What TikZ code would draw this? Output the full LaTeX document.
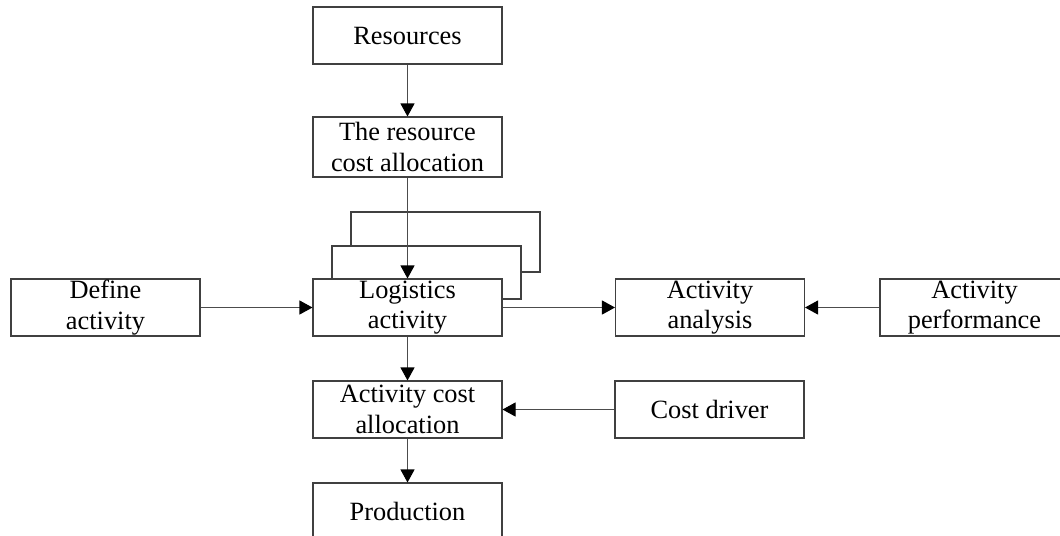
\documentclass[tikz,border=0pt]{standalone}
\usepackage{fontspec}
\setmainfont{Liberation Serif}
\usetikzlibrary{arrows.meta}

\begin{document}
\begin{tikzpicture}[
    line width=0.6pt,
    box/.style={draw=black!75, fill=white, minimum width=3.78cm, minimum height=1.14cm,
      inner sep=0pt, align=center, font=\fontsize{15}{17.5}\selectfont},
    link/.style={draw=black!70, -{Triangle[length=0.26cm, width=0.28cm, black]}}
  ]
  \useasboundingbox (0,0) rectangle (21.2,-10.7);

  % ---- stacked copies behind the logistics box ----
  \draw[draw=black!75, fill=white] (7.02,-4.24) rectangle (10.80,-5.44);
  \draw[draw=black!75, fill=white] (6.64,-4.92) rectangle (10.42,-5.98);

  % ---- main column ----
  \node[box] (res) at (8.15,-0.71) {Resources};
  \node[box, minimum height=1.2cm] (rca) at (8.15,-2.94) {The resource\\cost allocation};
  \node[box] (log) at (8.15,-6.15) {Logistics\\activity};
  \node[box] (aca) at (8.15,-8.19) {Activity cost\\allocation};
  \node[box] (prod) at (8.15,-10.23) {Production};

  % ---- side boxes ----
  \node[box] (def) at (2.11,-6.15) {Define\\activity};
  \node[box] (ana) at (14.20,-6.15) {Activity\\analysis};
  \node[box] (perf) at (19.49,-6.15) {Activity\\performance};
  \node[box] (drv) at (14.19,-8.19) {Cost driver};

  % ---- connectors ----
  \draw[link] (res) -- (rca);
  \draw[link] (rca) -- (log);
  \draw[link] (log) -- (aca);
  \draw[link] (aca) -- (prod);
  \draw[link] (def) -- (log);
  \draw[link] (log) -- (ana);
  \draw[link] (perf) -- (ana);
  \draw[link] (drv) -- (aca);

\end{tikzpicture}
\end{document}
